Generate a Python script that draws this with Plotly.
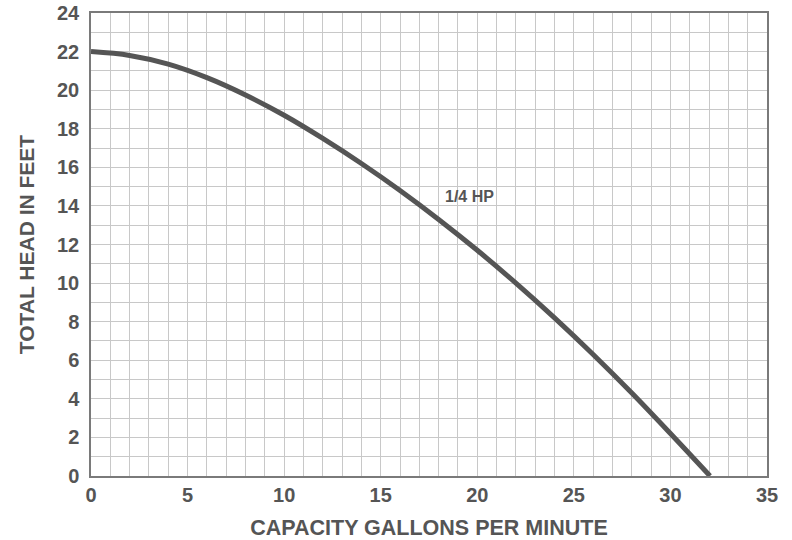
import plotly.graph_objects as go

capacity_gpm = [0, 2, 4, 6, 8, 10, 12, 14, 16, 18, 20, 22, 24, 26, 28, 30, 32.05]
head_ft = [22.0, 21.8, 21.35, 20.65, 19.75, 18.7, 17.5, 16.2, 14.8, 13.3, 11.7, 10.0, 8.2, 6.3, 4.3, 2.2, 0.0]
label_text = "1/4 HP"
label_x, label_y = 19.6, 14.47

gray = "#555555"
font_family = "Liberation Sans, Arial, Helvetica, sans-serif"

fig = go.Figure()
fig.add_trace(go.Scatter(x=capacity_gpm, y=head_ft, mode="lines",
                         line=dict(color=gray, width=5, shape="spline", smoothing=1.0),
                         showlegend=False, hoverinfo="skip"))
fig.add_annotation(x=label_x, y=label_y, text=label_text, showarrow=False,
                   font=dict(size=16, color=gray, family=font_family, weight="bold"))

axis_common = dict(showgrid=True, gridcolor="#c8c8c8", gridwidth=1,
                   showline=True, linecolor="#7a7a7a", linewidth=1.5, mirror=True,
                   zeroline=False, ticks="", automargin=False,
                   tickfont=dict(size=20, color=gray, family=font_family, weight="bold"))

fig.update_xaxes(range=[0, 35], dtick=5, minor=dict(dtick=1, showgrid=True, gridcolor="#c8c8c8"),
                 title=dict(text="CAPACITY GALLONS PER MINUTE", standoff=16,
                            font=dict(size=21.5, color=gray, family=font_family, weight="bold")),
                 ticklabelstandoff=0, **axis_common)
fig.update_yaxes(range=[0, 24], dtick=2, minor=dict(dtick=1, showgrid=True, gridcolor="#c8c8c8"),
                 title=dict(text="TOTAL HEAD IN FEET", standoff=17,
                            font=dict(size=21, color=gray, family=font_family, weight="bold")),
                 ticklabelstandoff=6, **axis_common)

fig.update_layout(width=792, height=540, plot_bgcolor="white", paper_bgcolor="white",
                  margin=dict(l=91, r=25, t=13, b=64))
fig.write_html("out.html", config={"displayModeBar": False},
               post_script="document.body.style.margin='0';")
